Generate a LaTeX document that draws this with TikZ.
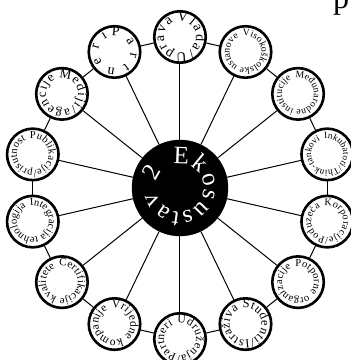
\documentclass[tikz,border=0pt]{standalone}
\usepackage{fontspec}
\setmainfont{Liberation Serif}
\usetikzlibrary{decorations.text}

\tikzset{
  hub/.style={circle, fill=black, draw=black, minimum size=96, inner sep=0pt},
  bubble/.style={circle, draw=black, line width=2.6pt, fill=white, minimum size=51.5, inner sep=0pt},
  link/.style={line width=1pt},
  ringtext/.style 2 args={decorate, decoration={text along path, text align=fit to path,
    text={|\fontsize{#2}{#2}\selectfont|#1}}},
  hubtext/.style={decorate, decoration={text along path, text align=fit to path,
    text={|\color{white}\fontsize{25}{25}\selectfont|#1}}}
}

\begin{document}
\begin{tikzpicture}[x=1pt, y=1pt]
    \useasboundingbox (-180,-172) rectangle (171,188);
    \clip (-180,-172) rectangle (171,188);

    % Naslov (odrezan)
    \node[anchor=base west, inner sep=0pt, font=\fontsize{32}{32}\selectfont] (naslov) at (153,180) {p};

    % Sredina
    \node[hub] (hub) at (0,0) {};

    % Prsten
    \node[bubble] (vlada) at (90:151) {};
    \node[bubble] (visoko) at (64.29:151) {};
    \node[bubble] (medjunar) at (38.57:151) {};
    \node[bubble] (inkub) at (12.86:151) {};
    \node[bubble] (korpor) at (-12.86:151) {};
    \node[bubble] (potpor) at (-38.57:151) {};
    \node[bubble] (student) at (-64.29:151) {};
    \node[bubble] (udruz) at (-90:151) {};
    \node[bubble] (vrijed) at (-115.71:151) {};
    \node[bubble] (certif) at (-141.43:151) {};
    \node[bubble] (integr) at (-167.14:151) {};
    \node[bubble] (publik) at (167.14:151) {};
    \node[bubble] (mediji) at (141.43:151) {};
    \node[bubble] (partn) at (115.71:151) {};

    % Zbice
    \draw[link] (hub) -- (vlada);
    \draw[link] (hub) -- (visoko);
    \draw[link] (hub) -- (medjunar);
    \draw[link] (hub) -- (inkub);
    \draw[link] (hub) -- (korpor);
    \draw[link] (hub) -- (potpor);
    \draw[link] (hub) -- (student);
    \draw[link] (hub) -- (udruz);
    \draw[link] (hub) -- (vrijed);
    \draw[link] (hub) -- (certif);
    \draw[link] (hub) -- (integr);
    \draw[link] (hub) -- (publik);
    \draw[link] (hub) -- (mediji);
    \draw[link] (hub) -- (partn);

    % Veze u prstenu
    \draw[link] (vlada) -- (visoko);
    \draw[link] (visoko) -- (medjunar);
    \draw[link] (medjunar) -- (inkub);
    \draw[link] (inkub) -- (korpor);
    \draw[link] (korpor) -- (potpor);
    \draw[link] (potpor) -- (student);
    \draw[link] (student) -- (udruz);
    \draw[link] (udruz) -- (vrijed);
    \draw[link] (vrijed) -- (certif);
    \draw[link] (certif) -- (integr);
    \draw[link] (integr) -- (publik);
    \draw[link] (publik) -- (mediji);
    \draw[link] (mediji) -- (partn);
    \draw[link] (partn) -- (vlada);

    % Tekst po krugu
    \path[hubtext={Ekosustav 2}] ([shift={(106:24)}]hub.center) arc[start angle=106, delta angle=-330, radius=24];
    \path[ringtext={Vlada/Uprava}{14}] ([shift={(100:16)}]vlada.center) arc[start angle=100, delta angle=-345, radius=16];
    \path[ringtext={Visokoškolske ustanove}{9.8}] ([shift={(100:16)}]visoko.center) arc[start angle=100, delta angle=-345, radius=16];
    \path[ringtext={Međunarodne institucije}{9.7}] ([shift={(100:16)}]medjunar.center) arc[start angle=100, delta angle=-345, radius=16];
    \path[ringtext={Inkubatori/Think-tankovi}{9.3}] ([shift={(100:16)}]inkub.center) arc[start angle=100, delta angle=-345, radius=16];
    \path[ringtext={Korporacije/Poduzeća}{10.2}] ([shift={(100:16)}]korpor.center) arc[start angle=100, delta angle=-345, radius=16];
    \path[ringtext={Potporne organizacije}{10.6}] ([shift={(100:16)}]potpor.center) arc[start angle=100, delta angle=-345, radius=16];
    \path[ringtext={Studenti/Istraživa}{12.5}] ([shift={(100:16)}]student.center) arc[start angle=100, delta angle=-345, radius=16];
    \path[ringtext={Udruženja/Partneri}{11.7}] ([shift={(100:16)}]udruz.center) arc[start angle=100, delta angle=-345, radius=16];
    \path[ringtext={Vrijedne kompanije}{11.6}] ([shift={(100:16)}]vrijed.center) arc[start angle=100, delta angle=-345, radius=16];
    \path[ringtext={Certifikacije kvalitete}{11}] ([shift={(100:16)}]certif.center) arc[start angle=100, delta angle=-345, radius=16];
    \path[ringtext={Integracija tehnologija}{10.6}] ([shift={(100:16)}]integr.center) arc[start angle=100, delta angle=-345, radius=16];
    \path[ringtext={Publikacije/prisutnost}{10.6}] ([shift={(100:16)}]publik.center) arc[start angle=100, delta angle=-345, radius=16];
    \path[ringtext={Mediji/agencije}{13}] ([shift={(100:16)}]mediji.center) arc[start angle=100, delta angle=-345, radius=16];
    \path[ringtext={Partneri}{14}] ([shift={(100:16)}]partn.center) arc[start angle=100, delta angle=-345, radius=16];
\end{tikzpicture}
\end{document}
